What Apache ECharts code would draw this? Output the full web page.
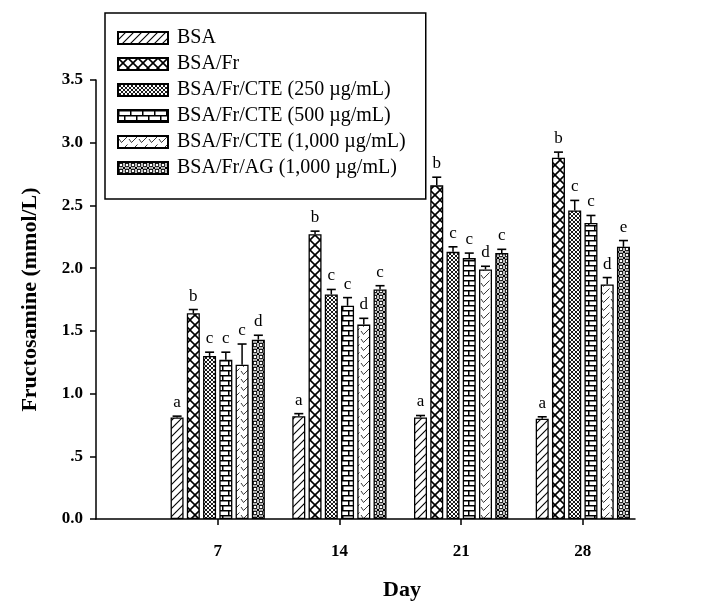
<!DOCTYPE html>
<html><head><meta charset="utf-8">
<script src="https://cdn.jsdelivr.net/npm/echarts@6/dist/echarts.min.js"></script>
<style>html,body{margin:0;padding:0;background:#fff}#c{width:701px;height:610px}</style>
</head><body><div id="c"></div>
<script>
// ---- data ----
const days = [7, 14, 21, 28];
const seriesNames = ['BSA', 'BSA/Fr', 'BSA/Fr/CTE (250 µg/mL)', 'BSA/Fr/CTE (500 µg/mL)', 'BSA/Fr/CTE (1,000 µg/mL)', 'BSA/Fr/AG (1,000 µg/mL)'];
const bsa      = [0.81, 0.82, 0.81, 0.80];
const bsaFr    = [1.64, 2.27, 2.66, 2.88];
const cte250   = [1.30, 1.79, 2.13, 2.46];
const cte500   = [1.27, 1.70, 2.08, 2.36];
const cte1000  = [1.23, 1.55, 1.99, 1.87];
const ag       = [1.43, 1.83, 2.12, 2.17];
const bsaErr     = [0.01, 0.02, 0.015, 0.015];
const bsaFrErr   = [0.03, 0.025, 0.065, 0.045];
const cte250Err  = [0.03, 0.04, 0.04, 0.08];
const cte500Err  = [0.06, 0.065, 0.04, 0.06];
const cte1000Err = [0.165, 0.05, 0.025, 0.055];
const agErr      = [0.035, 0.03, 0.03, 0.05];
const bsaLetters     = ['a', 'a', 'a', 'a'];
const bsaFrLetters   = ['b', 'b', 'b', 'b'];
const cte250Letters  = ['c', 'c', 'c', 'c'];
const cte500Letters  = ['c', 'c', 'c', 'c'];
const cte1000Letters = ['c', 'd', 'd', 'd'];
const agLetters      = ['d', 'c', 'c', 'e'];
const yTickLabels = ['0.0', '.5', '1.0', '1.5', '2.0', '2.5', '3.0', '3.5'];
const xTickValues = [7, 14, 21, 28];

const means = [bsa, bsaFr, cte250, cte500, cte1000, ag];
const errs = [bsaErr, bsaFrErr, cte250Err, cte500Err, cte1000Err, agErr];
const letters = [bsaLetters, bsaFrLetters, cte250Letters, cte500Letters, cte1000Letters, agLetters];

// ---- patterns ----
function tile(w, h, draw) {
  const c = document.createElement('canvas');
  c.width = w; c.height = h;
  const g = c.getContext('2d');
  g.fillStyle = '#fff'; g.fillRect(0, 0, w, h);
  g.strokeStyle = '#000'; g.fillStyle = '#000';
  draw(g, w, h);
  return { image: c, repeat: 'repeat' };
}
function ln(g, pts, lw) { g.lineWidth = lw; g.beginPath(); g.moveTo(pts[0], pts[1]); for (let k = 2; k < pts.length; k += 2) g.lineTo(pts[k], pts[k + 1]); g.stroke(); }
const patterns = [
  tile(8, 8, (g) => { ln(g, [-1, 9, 9, -1], 1.1); ln(g, [-1, 1, 1, -1], 1.1); ln(g, [7, 9, 9, 7], 1.1); }),
  tile(10, 10, (g) => { ln(g, [0, 0, 10, 10], 1.6); ln(g, [10, 0, 0, 10], 1.6); }),
  tile(4, 4, (g) => { ln(g, [0, 0, 4, 4], 0.9); ln(g, [4, 0, 0, 4], 0.9); }),
  tile(12, 10, (g) => { ln(g, [0, 0.75, 12, 0.75], 1.5); ln(g, [0, 5.75, 12, 5.75], 1.5); ln(g, [0.75, 0, 0.75, 5.75], 1.5); ln(g, [6.75, 5.75, 6.75, 10], 1.5); }),
  tile(10, 8, (g) => { g.strokeStyle = '#222'; ln(g, [1, 3, 3.5, 6.5, 9.5, 0.5], 0.9); }),
  tile(6, 6, (g) => {
    g.fillRect(0, 0, 1.2, 1.2); g.fillRect(4.8, 0, 1.2, 1.2); g.fillRect(0, 4.8, 1.2, 1.2); g.fillRect(4.8, 4.8, 1.2, 1.2);
    g.lineWidth = 1.1; g.beginPath(); g.arc(3, 3, 1.9, 0, Math.PI * 2); g.stroke();
  })
];

const BAR_W = 13, BAR_GAP = 0.25;
const FONT = '"Liberation Serif", "Times New Roman", serif';

const series = seriesNames.map((name, i) => ({
  name, type: 'bar',
  data: days.map((d, j) => [d, means[i][j]]),
  barWidth: BAR_W, barGap: (BAR_GAP * 100) + '%',
  itemStyle: { color: patterns[i], borderColor: '#000', borderWidth: 1.3 },
  emphasis: { disabled: true }, z: 2
}));

const errData = [];
const errLetters = [];
seriesNames.forEach((n, i) => days.forEach((d, j) => {
  errData.push([d, means[i][j], means[i][j] + errs[i][j], i]);
  errLetters.push(letters[i][j]);
}));
const pitch = BAR_W * (1 + BAR_GAP);
series.push({
  type: 'custom', data: errData, z: 5, silent: true,
  encode: { x: 0, y: 2 },
  renderItem: (params, api) => {
    const x = api.value(0), m = api.value(1), t = api.value(2), i = api.value(3);
    const pm = api.coord([x, m]), pt = api.coord([x, t]);
    const cx = pm[0] + (i - 2.5) * pitch;
    return { type: 'group', children: [
      { type: 'line', shape: { x1: cx, y1: pm[1], x2: cx, y2: pt[1] }, style: { stroke: '#000', lineWidth: 1.5 } },
      { type: 'line', shape: { x1: cx - 4.5, y1: pt[1], x2: cx + 4.5, y2: pt[1] }, style: { stroke: '#000', lineWidth: 1.6 } },
      { type: 'text', style: { text: errLetters[params.dataIndex], x: cx, y: pt[1] - 5, align: 'center', verticalAlign: 'bottom', textAlign: 'center', textVerticalAlign: 'bottom', fontSize: 17, fontFamily: FONT, fill: '#000' } }
    ] };
  }
});

const chart = echarts.init(document.getElementById('c'), null, { renderer: 'canvas' });
chart.setOption({
  animation: false,
  backgroundColor: '#fff',
  grid: { left: 96, right: 66, top: 80, bottom: 91, outerBoundsMode: 'none' },
  legend: {
    data: seriesNames, orient: 'vertical', left: 105, top: 13,
    itemWidth: 50, itemHeight: 12, itemGap: 6,
    icon: 'rect',
    padding: [15, 20, 21, 12],
    borderColor: '#000', borderWidth: 1.5,
    textStyle: { fontFamily: FONT, fontSize: 20, color: '#000', lineHeight: 20, padding: [0, 0, 0, 4] },
    selectedMode: false
  },
  xAxis: {
    type: 'value', min: 0, max: 31,
    name: 'Day', nameLocation: 'middle', nameGap: 60,
    nameTextStyle: { fontFamily: FONT, fontSize: 22, fontWeight: 'bold', color: '#000', padding: [0, 0, 0, 73] },
    axisLine: { show: true, lineStyle: { color: '#000', width: 1.5 } },
    axisTick: { show: true, customValues: xTickValues, length: 6, lineStyle: { color: '#000', width: 1.5 } },
    axisLabel: { customValues: xTickValues, margin: 24, fontFamily: FONT, fontSize: 17, fontWeight: 'bold', color: '#000' },
    splitLine: { show: false }
  },
  yAxis: {
    type: 'value', min: 0, max: 3.5, interval: 0.5,
    name: 'Fructosamine (mmol/L)', nameLocation: 'middle', nameGap: 55,
    nameTextStyle: { fontFamily: FONT, fontSize: 22, fontWeight: 'bold', color: '#000' },
    axisLine: { show: true, lineStyle: { color: '#000', width: 1.5 } },
    axisTick: { show: true, length: 6, lineStyle: { color: '#000', width: 1.5 } },
    axisLabel: { margin: 13, fontFamily: FONT, fontSize: 17, fontWeight: 'bold', color: '#000',
      formatter: (v) => yTickLabels[Math.round(v / 0.5)] },
    splitLine: { show: false }
  },
  series
});
</script></body></html>
